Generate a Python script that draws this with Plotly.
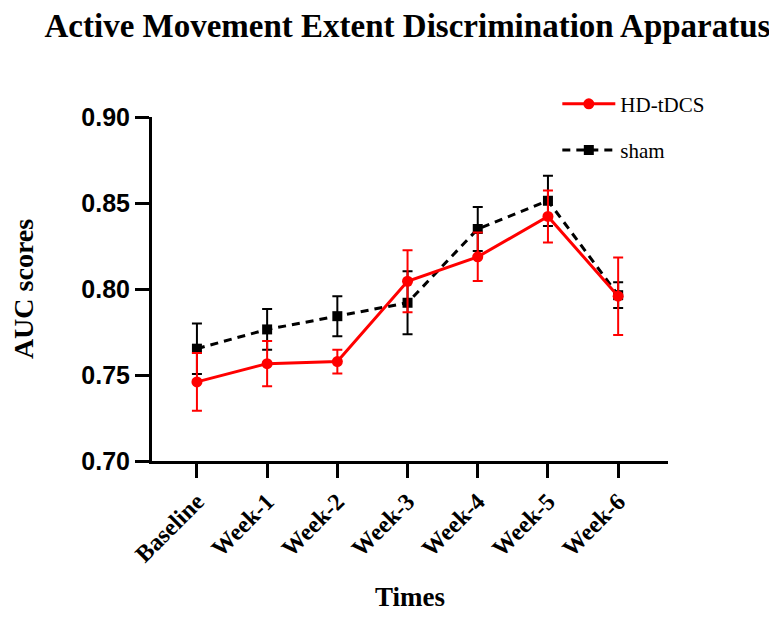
import plotly.graph_objects as go

times = ["Baseline", "Week-1", "Week-2", "Week-3", "Week-4", "Week-5", "Week-6"]
hd_mean = [0.7460, 0.7566, 0.7578, 0.8045, 0.8187, 0.8422, 0.7958]
hd_err = [0.0168, 0.0132, 0.0069, 0.0180, 0.0141, 0.0151, 0.0225]
sham_mean = [0.7653, 0.7765, 0.7842, 0.7920, 0.8349, 0.8513, 0.7964]
sham_err = [0.0147, 0.0118, 0.0116, 0.0183, 0.0128, 0.0146, 0.0075]
y_ticks = [0.70, 0.75, 0.80, 0.85, 0.90]

SERIF = "Liberation Serif"
SANS = "Liberation Sans"

fig = go.Figure()
fig.add_trace(go.Scatter(
    x=times, y=sham_mean, name="sham", mode="lines+markers",
    line=dict(color="black", width=3, dash="8px,6px"),
    marker=dict(symbol="square", size=10, color="black"),
    error_y=dict(type="data", array=sham_err, color="black", thickness=2, width=5),
    legendrank=2, legendgroup="sham",
))
fig.add_trace(go.Scatter(
    x=times, y=hd_mean, name="HD-tDCS", mode="lines+markers",
    line=dict(color="#ff0000", width=3),
    marker=dict(symbol="circle", size=11, color="#ff0000"),
    error_y=dict(type="data", array=hd_err, color="#ff0000", thickness=2, width=5),
    legendrank=1, legendgroup="hd",
))

# page body has an 8px default margin, so the figure is sized/offset to compensate
fig.update_layout(
    width=769, height=611,
    margin=dict(l=144, r=109, t=109, b=158, autoexpand=False),
    paper_bgcolor="white", plot_bgcolor="white",
    title=dict(text="Active Movement Extent Discrimination Apparatus",
               font=dict(family=SERIF, size=33, color="black", weight="bold"),
               x=0.5195, xanchor="center", y=0.972, yanchor="middle"),
    legend=dict(x=0.7855, y=1.097, xanchor="left", yanchor="top",
                font=dict(family=SERIF, size=21, color="black"),
                tracegroupgap=16, itemwidth=53, bgcolor="rgba(0,0,0,0)"),
    showlegend=True,
)
fig.update_xaxes(
    type="category", range=[-0.64, 6.71], automargin=False,
    showline=True, linecolor="black", linewidth=3,
    ticks="outside", ticklen=14, tickwidth=3, tickcolor="black",
    showgrid=False, zeroline=False, tickangle=-45,
    tickfont=dict(family=SERIF, size=24, color="black", weight="bold"),
    title=dict(text="Times", font=dict(family=SERIF, size=27, color="black", weight="bold"), standoff=21),
)
fig.update_yaxes(
    range=[0.70, 0.90], tickvals=y_ticks, tickformat=".2f", automargin=False,
    showline=True, linecolor="black", linewidth=3,
    ticks="outside", ticklen=14, tickwidth=3, tickcolor="black",
    showgrid=False, zeroline=False,
    tickfont=dict(family=SANS, size=25, color="black", weight="bold"),
    title=dict(text="AUC scores", font=dict(family=SERIF, size=28, color="black", weight="bold"), standoff=48),
)
fig.write_html("out.html")
